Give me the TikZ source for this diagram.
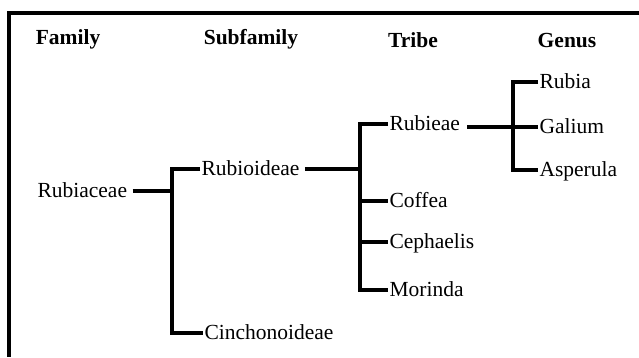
\documentclass[tikz,border=0pt]{standalone}
\usepackage{fontspec}
\setmainfont{Liberation Serif}
\begin{document}
\begin{tikzpicture}[x=1pt,y=-1pt,
  taxon/.style={anchor=mid west,inner sep=0pt,outer sep=1.5pt,
    font=\fontsize{21.5}{24}\selectfont,
    execute at begin node={\lower4.5pt\hbox\bgroup},
    execute at end node={\egroup}},
  rank/.style={anchor=base,inner sep=0pt,
    font=\fontsize{21.5}{24}\selectfont\bfseries},
  branch/.style={line width=3.1pt,line join=miter}]
\useasboundingbox (0,0) rectangle (639,357);

% open frame: top rule and left rule
\coordinate (frameTL) at (9,13);
\coordinate (frameTR) at (639,13);
\coordinate (frameBL) at (9,357);
\draw[line width=3.1pt] (frameTR) -- (frameTL) -- (frameBL);

% rank headings
\node[rank] (hfamily)    at (68,44)  {Family};
\node[rank] (hsubfamily) at (251,44) {Subfamily};
\node[rank] (htribe)     at (413,47) {Tribe};
\node[rank] (hgenus)     at (567,47) {Genus};

% family
\node[taxon] (rubiaceae) at (36,191) {Rubiaceae};

% subfamilies
\node[taxon] (rubioideae)    at (200,169) {Rubioideae};
\node[taxon] (cinchonoideae) at (203,333) {Cinchonoideae};

% tribes
\node[taxon] (rubieae)   at (388,124) {Rubieae};
\node[taxon] (coffea)    at (388,201) {Coffea};
\node[taxon] (cephaelis) at (388,242) {Cephaelis};
\node[taxon] (morinda)   at (388,290) {Morinda};

% genera
\node[taxon] (rubia)    at (538,82)  {Rubia};
\node[taxon] (galium)   at (538,127) {Galium};
\node[taxon] (asperula) at (538,170) {Asperula};

% junction points of the tree
\coordinate (jsub)   at (172,191);
\coordinate (jtribe) at (360,169);
\coordinate (jgenus) at (513,127);

% family -> subfamilies
\draw[branch] ([xshift=4pt]rubiaceae.mid east) -- (jsub);
\draw[branch] (rubioideae.mid west) -| (jsub) |- (cinchonoideae.mid west);

% Rubioideae -> tribes
\draw[branch] ([xshift=4pt]rubioideae.mid east) -- (jtribe);
\draw[branch] (rubieae.mid west) -| (jtribe) |- (morinda.mid west);
\draw[branch] (jtribe |- coffea.mid west) -- (coffea.mid west);
\draw[branch] (jtribe |- cephaelis.mid west) -- (cephaelis.mid west);

% Rubieae -> genera
\draw[branch] ([xshift=6pt]rubieae.mid east |- jgenus) -- (jgenus);
\draw[branch] (rubia.mid west) -| (jgenus) |- (asperula.mid west);
\draw[branch] (jgenus) -- (galium.mid west);
\end{tikzpicture}
\end{document}
